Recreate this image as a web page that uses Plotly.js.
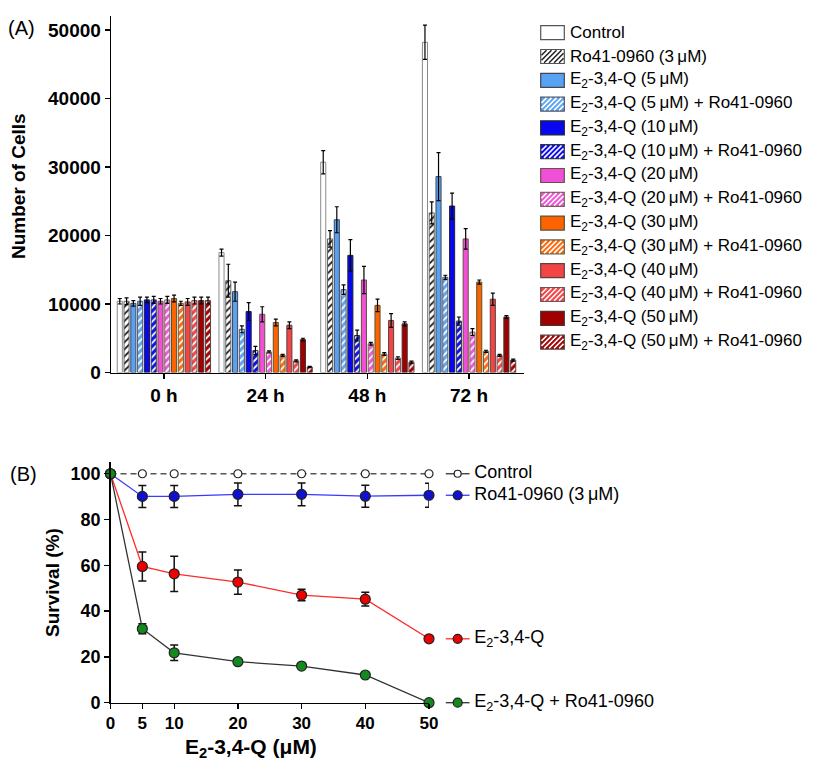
<!DOCTYPE html>
<html>
<head>
<meta charset="utf-8">
<script src="https://cdn.plot.ly/plotly-3.0.1.min.js"></script>
<style>html,body{margin:0;padding:0;background:#fff}#chart{width:813px;height:763px}</style>
</head>
<body>
<div id="chart"></div>
<script>
// ---------- Panel A data ----------
var groups = ['0 h', '24 h', '48 h', '72 h'];
var seriesNames = [
  'Control', 'Ro41-0960 (3\u2009\u03bcM)',
  'E<sub>2</sub>-3,4-Q (5\u2009\u03bcM)', 'E<sub>2</sub>-3,4-Q (5\u2009\u03bcM) + Ro41-0960',
  'E<sub>2</sub>-3,4-Q (10\u2009\u03bcM)', 'E<sub>2</sub>-3,4-Q (10\u2009\u03bcM) + Ro41-0960',
  'E<sub>2</sub>-3,4-Q (20\u2009\u03bcM)', 'E<sub>2</sub>-3,4-Q (20\u2009\u03bcM) + Ro41-0960',
  'E<sub>2</sub>-3,4-Q (30\u2009\u03bcM)', 'E<sub>2</sub>-3,4-Q (30\u2009\u03bcM) + Ro41-0960',
  'E<sub>2</sub>-3,4-Q (40\u2009\u03bcM)', 'E<sub>2</sub>-3,4-Q (40\u2009\u03bcM) + Ro41-0960',
  'E<sub>2</sub>-3,4-Q (50\u2009\u03bcM)', 'E<sub>2</sub>-3,4-Q (50\u2009\u03bcM) + Ro41-0960'
];
var control  = [10400, 17500, 30700, 48200];
var ro       = [10400, 13400, 19500, 23300];
var e5       = [10100, 11800, 22300, 28600];
var e5ro     = [10400, 6300, 12100, 13900];
var e10      = [10600, 8900, 17100, 24300];
var e10ro    = [10600, 3200, 5400, 7500];
var e20      = [10400, 8500, 13500, 19500];
var e20ro    = [10600, 3000, 4200, 5900];
var e30      = [10800, 7300, 9800, 13200];
var e30ro    = [10100, 2500, 2700, 3100];
var e40      = [10300, 6900, 7600, 10700];
var e40ro    = [10500, 1700, 2100, 2500];
var e50      = [10500, 4800, 7100, 8100];
var e50ro    = [10500, 800, 1500, 1800];

var controlErr = [400, 500, 1700, 2500];
var roErr      = [500, 2400, 1200, 1600];
var e5Err      = [400, 1400, 1900, 3500];
var e5roErr    = [600, 500, 700, 300];
var e10Err     = [400, 1300, 2300, 1900];
var e10roErr   = [500, 600, 800, 600];
var e20Err     = [400, 1100, 2000, 1500];
var e20roErr   = [500, 150, 200, 500];
var e30Err     = [500, 500, 900, 300];
var e30roErr   = [300, 150, 200, 150];
var e40Err     = [500, 500, 1000, 900];
var e40roErr   = [500, 150, 200, 150];
var e50Err     = [500, 200, 300, 200];
var e50roErr   = [500, 100, 150, 150];

// ---------- Panel B data ----------
var doses   = [0, 5, 10, 20, 30, 40, 50];
var survControl = [100, 100, 100, 100, 100, 100, 100];
var survRo      = [100, 90.1, 90.1, 91.0, 91.0, 90.2, 90.6];
var survRoErr   = [0, 4.8, 4.8, 5.0, 5.0, 4.8, 5.2];
var survE2      = [100, 59.5, 56.3, 52.7, 47.0, 45.2, 27.9];
var survE2Err   = [0, 6.3, 7.7, 5.3, 2.5, 3.0, 0];
var survE2Ro    = [100, 32.3, 21.8, 17.9, 16.0, 12.1, 0];
var survE2RoErr = [0, 2.2, 3.4, 0.8, 0.5, 0.5, 0];
var survNames = ['Control', 'Ro41-0960 (3\u2009\u03bcM)', 'E<sub>2</sub>-3,4-Q', 'E<sub>2</sub>-3,4-Q + Ro41-0960'];

// ---------- styles ----------
var W = 813, H = 763;
function px(x) { return x / W; }
function py(y) { return 1 - y / H; }
var FONT = 'Liberation Sans, Arial, Helvetica, sans-serif';

var values = [control, ro, e5, e5ro, e10, e10ro, e20, e20ro, e30, e30ro, e40, e40ro, e50, e50ro];
var errs = [controlErr, roErr, e5Err, e5roErr, e10Err, e10roErr, e20Err, e20roErr, e30Err, e30roErr, e40Err, e40roErr, e50Err, e50roErr];
var fills = ['#ffffff', '#ffffff', '#58a2f2', '#5da6f2', '#0808f0', '#1010e8', '#f24fd8', '#f255dc', '#ff6200', '#ff6a10', '#f44545', '#f44848', '#a00000', '#a30404'];
var hatched = [false, true, false, true, false, true, false, true, false, true, false, true, false, true];
var hatchColor = ['#fff', '#222', '#fff', '#fff', '#fff', '#fff', '#fff', '#fff', '#fff', '#fff', '#fff', '#fff', '#fff', '#fff'];
var outline = ['#8a8a8a', '#666', '#445', '#556', '#223', '#334', '#654', '#765', '#553', '#664', '#544', '#655', '#433', '#544'];

var traces = [];
for (var i = 0; i < values.length; i++) {
  var m = { color: fills[i], line: { color: outline[i], width: 1 } };
  if (hatched[i]) {
    m.pattern = { shape: '/', fgcolor: hatchColor[i], bgcolor: fills[i], size: 5, solidity: 0.35 };
  }
  traces.push({
    type: 'bar', x: groups, y: values[i], name: seriesNames[i],
    xaxis: 'x', yaxis: 'y', marker: m, showlegend: false,
    error_y: { type: 'data', array: errs[i], visible: true, color: '#000', thickness: 1.2, width: 2 }
  });
}

// Panel B traces
var survY = [survControl, survRo, survE2, survE2Ro];
var survErr = [null, survRoErr, survE2Err, survE2RoErr];
var lineCol = ['#555555', '#3a3aff', '#ff2a2a', '#333333'];
var lineDash = ['6px,4px', 'solid', 'solid', 'solid'];
var mkCol = ['#ffffff', '#1010d0', '#ee0000', '#128a1e'];
var mkSize = [8, 10, 10, 10];
for (var j = 0; j < survY.length; j++) {
  var t = {
    type: 'scatter', mode: 'lines+markers', x: doses, y: survY[j], name: survNames[j],
    xaxis: 'x2', yaxis: 'y2', cliponaxis: false, showlegend: false,
    line: { color: lineCol[j], width: 1.3, dash: lineDash[j] },
    marker: { color: mkCol[j], size: mkSize[j], line: { color: '#222', width: 1.2 } }
  };
  if (survErr[j]) t.error_y = { type: 'data', array: survErr[j], visible: true, color: '#111', thickness: 1.5, width: 4 };
  traces.push(t);
}
// end-of-line labels drawn on a hidden x-axis (x3) with the same scale as x2, extending to the right
var labelX = 54.5;
for (var k = 0; k < survY.length; k++) {
  var lastY = survY[k][survY[k].length - 1];
  traces.push({
    type: 'scatter', mode: 'markers', x: [labelX], y: [lastY], xaxis: 'x3', yaxis: 'y2',
    cliponaxis: false, showlegend: false, hoverinfo: 'skip',
    marker: { symbol: 'line-ew', size: 17, line: { color: k === 0 ? '#333' : lineCol[k], width: 1.3 } }
  });
  traces.push({
    type: 'scatter', mode: 'markers', x: [labelX], y: [lastY], xaxis: 'x3', yaxis: 'y2',
    cliponaxis: false, showlegend: false, hoverinfo: 'skip',
    marker: { color: mkCol[k], size: mkSize[k] - 1, line: { color: '#222', width: 1.2 } }
  });
  traces.push({
    type: 'scatter', mode: 'markers+text', x: [labelX], y: [lastY], xaxis: 'x3', yaxis: 'y2',
    cliponaxis: false, showlegend: false, hoverinfo: 'skip',
    marker: { size: 25, opacity: 0, color: 'rgba(0,0,0,0)' },
    text: [survNames[k]], textposition: 'middle right',
    textfont: { family: FONT, size: 18, color: '#000' }
  });
}

// ---------- manual legend for panel A ----------
var shapes = [];
var annotations = [];
var legX0 = 540.7, legX1 = 564.3, legY0 = 32.7, legStep = 23.8, legH = 14, legTextX = 568;
for (var i2 = 0; i2 < seriesNames.length; i2++) {
  var cy = legY0 + i2 * legStep;
  var boxTop = cy - legH / 2, boxBot = cy + legH / 2;
  shapes.push({ type: 'rect', xref: 'paper', yref: 'paper', x0: px(legX0), x1: px(legX1), y0: py(boxBot), y1: py(boxTop),
    fillcolor: fills[i2], line: { color: i2 < 2 ? '#555' : outline[i2], width: 1.2 } });
  if (hatched[i2]) {
    var path = '';
    var s = 5;
    var bx0 = legX0 + 0.8, bx1 = legX1 - 0.8, by0 = boxTop + 0.8, by1 = boxBot - 0.8;
    var hh = by1 - by0;
    for (var xs = bx0 - hh; xs < bx1; xs += s) {
      var ts = Math.max(0, bx0 - xs), te = Math.min(hh, bx1 - xs);
      if (te - ts > 0.5) {
        path += 'M' + px(xs + ts).toFixed(5) + ',' + py(by1 - ts).toFixed(5) + 'L' + px(xs + te).toFixed(5) + ',' + py(by1 - te).toFixed(5);
      }
    }
    shapes.push({ type: 'path', xref: 'paper', yref: 'paper', path: path, line: { color: hatchColor[i2], width: 1.5 } });
  }
  annotations.push({ xref: 'paper', yref: 'paper', x: px(legTextX), y: py(cy), xanchor: 'left', yanchor: 'middle',
    text: seriesNames[i2], showarrow: false, font: { family: FONT, size: 17, color: '#000' } });
}

// titles and panel labels
annotations.push({ xref: 'paper', yref: 'paper', x: px(18), y: py(186), text: 'Number of Cells', textangle: -90,
  showarrow: false, xanchor: 'center', yanchor: 'middle', font: { family: FONT, size: 19, color: '#000', weight: 'bold' } });
annotations.push({ xref: 'paper', yref: 'paper', x: px(52), y: py(582), text: 'Survival (%)', textangle: -90,
  showarrow: false, xanchor: 'center', yanchor: 'middle', font: { family: FONT, size: 19, color: '#000', weight: 'bold' } });
annotations.push({ xref: 'paper', yref: 'paper', x: px(251), y: py(748), text: 'E<sub>2</sub>-3,4-Q (\u03bcM)',
  showarrow: false, xanchor: 'center', yanchor: 'middle', font: { family: FONT, size: 21, color: '#000', weight: 'bold' } });
annotations.push({ xref: 'paper', yref: 'paper', x: px(6), y: py(28), text: '(A)', showarrow: false,
  xanchor: 'left', yanchor: 'middle', font: { family: FONT, size: 20, color: '#000' } });
annotations.push({ xref: 'paper', yref: 'paper', x: px(8), y: py(474), text: '(B)', showarrow: false,
  xanchor: 'left', yanchor: 'middle', font: { family: FONT, size: 20, color: '#000' } });

var axisCommon = {
  showline: true, linecolor: '#000', linewidth: 1.3, ticks: 'outside', ticklen: 5, tickwidth: 1.3, tickcolor: '#000',
  showgrid: false, zeroline: false, fixedrange: true
};
function ax(o) { var r = {}; for (var a in axisCommon) r[a] = axisCommon[a]; for (var b in o) r[b] = o[b]; return r; }

var x2Left = 110.5, x2Right = 429, x3Right = 805;
var layout = {
  width: W, height: H, margin: { l: 0, r: 0, t: 0, b: 0 },
  paper_bgcolor: '#fff', plot_bgcolor: 'rgba(0,0,0,0)',
  font: { family: FONT, color: '#000' },
  barmode: 'group', bargap: 0.066, bargroupgap: 0.25,
  showlegend: false,
  xaxis: ax({ domain: [px(111), px(524)], anchor: 'y', type: 'category', range: [-0.52, 3.54],
    tickfont: { family: FONT, size: 19, weight: 'bold' } }),
  yaxis: ax({ domain: [py(372.5), py(16.3)], anchor: 'x', range: [0, 52000], tickvals: [0, 10000, 20000, 30000, 40000, 50000],
    tickformat: 'd', tickfont: { family: FONT, size: 19, weight: 'bold' } }),
  xaxis2: ax({ domain: [px(x2Left), px(x2Right)], anchor: 'y2', range: [0, 50], tickvals: doses,
    tickfont: { family: FONT, size: 17, weight: 'bold' } }),
  yaxis2: ax({ domain: [py(702.7), py(462.3)], anchor: 'x2', range: [0, 105], tickvals: [0, 20, 40, 60, 80, 100],
    tickfont: { family: FONT, size: 18, weight: 'bold' } }),
  xaxis3: { domain: [px(x2Left), px(x3Right)], anchor: 'y2', range: [0, 50 * (x3Right - x2Left) / (x2Right - x2Left)],
    visible: false, fixedrange: true },
  shapes: shapes, annotations: annotations
};

Plotly.newPlot('chart', traces, layout, { displayModeBar: false, staticPlot: true });
</script>
</body>
</html>
